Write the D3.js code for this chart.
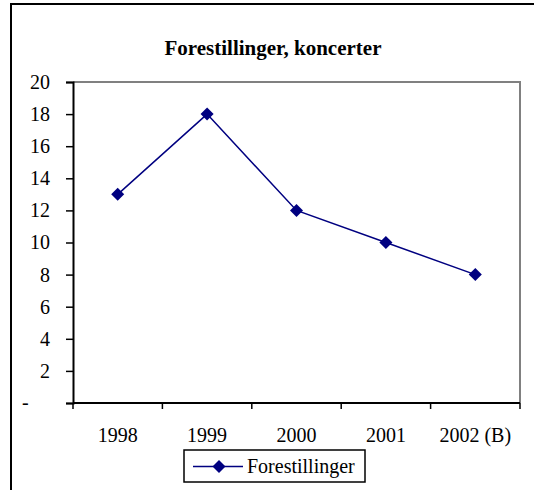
<!DOCTYPE html>
<html>
<head>
<meta charset="utf-8">
<script src="https://cdn.jsdelivr.net/npm/d3@7"></script>
<style>
  body { margin: 0; background: #fff; }
  svg text { font-family: "Times New Roman", "Liberation Serif", serif; }
</style>
</head>
<body>
<svg id="chart" width="534" height="490"></svg>
<script>
const years = ['1998', '1999', '2000', '2001', '2002 (B)'];
const forestillinger = [13, 18, 12, 10, 8];
const yTicks = [0, 2, 4, 6, 8, 10, 12, 14, 16, 18, 20];
const title = 'Forestillinger, koncerter';
const seriesName = 'Forestillinger';

const svg = d3.select('#chart');
const margin = {top: 82, right: 14, bottom: 87, left: 73};
const width = +svg.attr('width');
const height = +svg.attr('height');
const innerWidth = width - margin.left - margin.right;
const innerHeight = height - margin.top - margin.bottom;
const navy = '#000080';
const serif = '"Times New Roman", "Liberation Serif", serif';
const fontSize = '20px';

// outer chart border (right and bottom edges fall outside the picture)
svg.append('path')
  .attr('d', `M11,${height}V4H${width}`)
  .attr('fill', 'none').attr('stroke', '#000').attr('stroke-width', 2);

svg.append('text')
  .attr('x', 273).attr('y', 55)
  .attr('text-anchor', 'middle')
  .attr('font-family', serif)
  .attr('font-weight', 'bold')
  .attr('font-size', '21px')
  .text(title);

const g = svg.append('g')
  .attr('transform', `translate(${margin.left},${margin.top})`);

const xScale = d3.scaleBand().domain(years).range([0, innerWidth]);
const yScale = d3.scaleLinear().domain([0, 20]).range([innerHeight, 0]);

// plot area frame (grey top/right)
g.append('path')
  .attr('d', `M0,0H${innerWidth}V${innerHeight}`)
  .attr('fill', 'none').attr('stroke', '#808080').attr('stroke-width', 2);

// y axis
const yAxis = d3.axisLeft(yScale).tickValues(yTicks).tickSize(7).tickPadding(16)
  .tickFormat(d => d === 0 ? '' : d);
const yAxisGroup = g.append('g').call(yAxis).attr('font-family', serif);
yAxisGroup.select('.domain').attr('stroke-width', 2);
yAxisGroup.selectAll('.tick line').attr('stroke-width', 1.5);
yAxisGroup.selectAll('.tick text')
  .attr('font-size', fontSize).attr('fill', '#000');
// Excel accounting zero
g.append('text')
  .attr('x', -51).attr('y', yScale(0)).attr('dy', '0.32em')
  .attr('font-family', serif)
  .attr('font-size', fontSize)
  .text('-');

// x axis with ticks at band edges
const xAxisGroup = g.append('g').attr('transform', `translate(0,${innerHeight})`);
xAxisGroup.append('line')
  .attr('x1', 0).attr('x2', innerWidth)
  .attr('stroke', '#000').attr('stroke-width', 2);
const edges = years.map(d => xScale(d)).concat([innerWidth]);
xAxisGroup.selectAll('.xtick').data(edges).enter().append('line')
  .attr('class', 'xtick')
  .attr('x1', d => d).attr('x2', d => d)
  .attr('y1', 0).attr('y2', 6)
  .attr('stroke', '#000').attr('stroke-width', 1.5);
xAxisGroup.selectAll('.xlabel').data(years).enter().append('text')
  .attr('class', 'xlabel')
  .attr('x', d => xScale(d) + xScale.bandwidth() / 2)
  .attr('y', 38.5)
  .attr('text-anchor', 'middle')
  .attr('font-family', serif)
  .attr('font-size', fontSize)
  .text(d => d);

// series
const data = years.map((y, i) => ({year: y, value: forestillinger[i]}));
const line = d3.line()
  .x(d => xScale(d.year) + xScale.bandwidth() / 2)
  .y(d => yScale(d.value));
g.append('path').datum(data)
  .attr('d', line)
  .attr('fill', 'none').attr('stroke', navy).attr('stroke-width', 1.5);
const diamond = d3.symbol().type(d3.symbolSquare).size(85);
g.selectAll('.marker').data(data).enter().append('path')
  .attr('class', 'marker')
  .attr('transform', d => `translate(${xScale(d.year) + xScale.bandwidth() / 2},${yScale(d.value)}) rotate(45)`)
  .attr('d', diamond)
  .attr('fill', navy);

// legend
const legend = svg.append('g').attr('transform', 'translate(184,450)');
legend.append('rect')
  .attr('width', 181).attr('height', 32)
  .attr('fill', '#fff').attr('stroke', '#000').attr('stroke-width', 1.5);
legend.append('line')
  .attr('x1', 9).attr('x2', 59).attr('y1', 16.5).attr('y2', 16.5)
  .attr('stroke', navy).attr('stroke-width', 1.5);
legend.append('path')
  .attr('transform', 'translate(35,16.5) rotate(45)')
  .attr('d', diamond)
  .attr('fill', navy);
legend.append('text')
  .attr('x', 63).attr('y', 23)
  .attr('font-family', serif)
  .attr('font-size', fontSize)
  .text(seriesName);
</script>
</body>
</html>
